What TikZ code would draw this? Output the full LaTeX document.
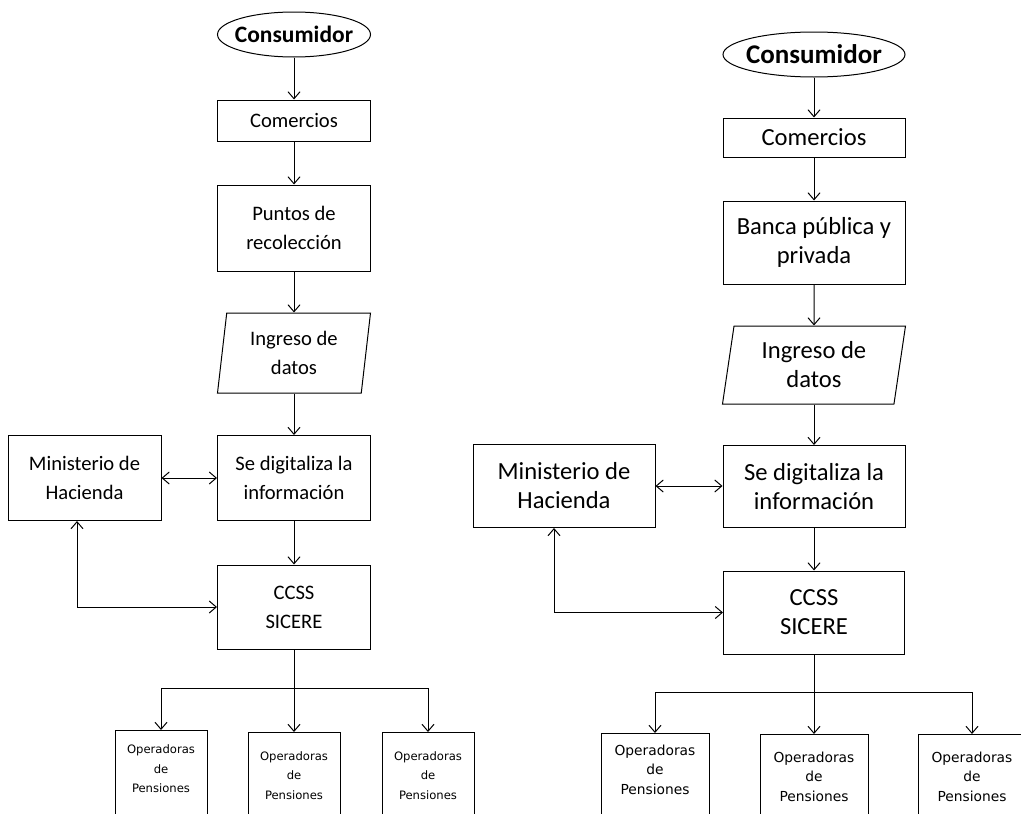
\documentclass[tikz,border=0pt]{standalone}
\usepackage{fontspec}
\setmainfont{Carlito}
\newfontfamily\pensfont{DejaVu Sans}
\usetikzlibrary{shapes.geometric,arrows.meta}
\newcommand{\pens}[1]{\parbox[t][80pt][t]{#1}{\centering Operadoras\\de\\Pensiones}}

\begin{document}
\begin{tikzpicture}[x=1pt,y=-1pt,line width=1pt,
    >={Straight Barb[length=7pt,width=12pt]},
    caja/.style={draw,rectangle,align=center,inner sep=1pt},
    inicio/.style={draw,ellipse,inner xsep=-10pt,inner ysep=0pt},
    datos/.style={draw,trapezium,trapezium stretches body,align=center,inner sep=0pt},
    pension/.style={draw,rectangle,anchor=north,inner xsep=1pt,inner ysep=#1},
    textoA/.style={font=\fontsize{20.6}{29}\selectfont},
    textoB/.style={font=\fontsize{24.6}{29}\selectfont}]
\useasboundingbox (0,0) rectangle (1021,814);
\clip (0,0) rectangle (1021,814);

\node[inicio,minimum width=153pt,minimum height=45pt,font=\bfseries\fontsize{23.5}{29}\selectfont] (consA) at (294,34.5) {Consumidor};
\node[caja,textoA,minimum width=153pt,minimum height=41pt] (comA) at (294,120.5) {Comercios};
\node[caja,textoA,minimum width=153pt,minimum height=86pt] (punA) at (294,228) {Puntos de\\recolección};
\node[datos,textoA,trapezium left angle=78,trapezium right angle=102,minimum width=153pt,minimum height=80pt] (ingA) at (294,353) {Ingreso de\\datos};
\node[caja,textoA,minimum width=153pt,minimum height=85pt] (digA) at (294,478) {Se digitaliza la\\información};
\node[caja,textoA,minimum width=153pt,minimum height=85pt] (minA) at (84.5,478) {Ministerio de\\Hacienda};
\node[caja,textoA,minimum width=153pt,minimum height=84pt] (ccsA) at (294,607) {CCSS\\SICERE};
\coordinate (splitA) at (294,688);

\draw[->] (consA) -- (comA);
\draw[->] (comA) -- (punA);
\draw[->] (punA) -- (ingA);
\draw[->] (ingA) -- (digA);
\draw[->] (digA) -- (ccsA);
\draw[<->] (minA) -- (digA);
\draw[<->] ([xshift=-7.5pt]minA.south) |- (ccsA);
\draw (ccsA) -- (splitA);
\foreach \n/\x/\y/\s in {1/161/730/14.5,2/294/732/19,3/428/732/19}
{
  \node[pension=\s pt,font=\pensfont\fontsize{11.6}{19.5}\selectfont,minimum width=92pt] (opA\n) at (\x,\y) {\pens{88pt}};
  \draw[->] (splitA) -| (opA\n);
}

\node[inicio,minimum width=182pt,minimum height=45pt,font=\bfseries\fontsize{27}{29}\selectfont] (consB) at (814,54.5) {Consumidor};
\node[caja,textoB,minimum width=182pt,minimum height=39pt] (comB) at (814,137.5) {Comercios};
\node[caja,textoB,minimum width=182pt,minimum height=83pt] (banB) at (814,242.5) {Banca pública y\\privada};
\node[datos,textoB,trapezium left angle=76,trapezium right angle=104,minimum width=183pt,minimum height=78pt] (ingB) at (814,365) {Ingreso de\\datos};
\node[caja,textoB,minimum width=182pt,minimum height=82pt] (digB) at (814,486.5) {Se digitaliza la\\información};
\node[caja,textoB,minimum width=182pt,minimum height=83pt] (minB) at (564,486) {Ministerio de\\Hacienda};
\node[caja,textoB,minimum width=181pt,minimum height=83pt] (ccsB) at (814,612.5) {CCSS\\SICERE};
\coordinate (splitB) at (814,692);

\draw[->] (consB) -- (comB);
\draw[->] (comB) -- (banB);
\draw[->] (banB) -- (ingB);
\draw[->] (ingB) -- (digB);
\draw[->] (digB) -- (ccsB);
\draw[<->] (minB.east) -- (minB.east -| digB.west);
\draw[<->] ([xshift=-10pt]minB.south) |- (ccsB);
\draw (ccsB) -- (splitB);
\foreach \n/\x/\y/\s in {1/655/733/11.5,2/814/734/17.5,3/972/734/17.5}
{
  \node[pension=\s pt,font=\pensfont\fontsize{13.8}{19.5}\selectfont,minimum width=108pt] (opB\n) at (\x,\y) {\pens{104pt}};
  \draw[->] (splitB) -| (opB\n);
}
\end{tikzpicture}
\end{document}
